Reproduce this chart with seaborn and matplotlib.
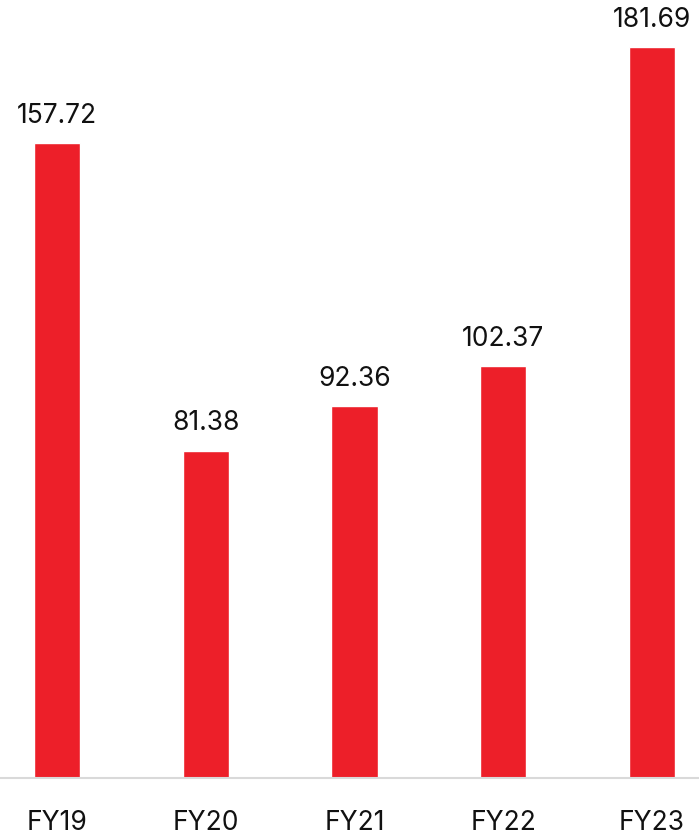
import matplotlib
matplotlib.use("Agg")
import matplotlib.pyplot as plt
import seaborn as sns
import pandas as pd

categories = ["FY19", "FY20", "FY21", "FY22", "FY23"]
values = [157.72, 81.38, 92.36, 102.37, 181.69]

sns.set_theme(style="white")
plt.rcParams['font.family'] = ['Inter', 'DejaVu Sans']

df = pd.DataFrame({"year": categories, "value": values})

fig = plt.figure(figsize=(6.99, 8.37), dpi=100)
ax = fig.add_axes([0, 0.0693, 1, 0.9307])
sns.barplot(data=df, x="year", y="value", color="#ED1F29", saturation=1, width=0.31, ax=ax)

ax.set_xlim(-0.383, 4.316)
ax.set_ylim(0, 193.6)
for s in ["top", "left", "right"]:
    ax.spines[s].set_visible(False)
ax.spines["bottom"].set_color("#d9d9d9")
ax.spines["bottom"].set_linewidth(1.5)
ax.set_yticks([])
ax.set_xlabel("")
ax.set_ylabel("")
ax.tick_params(axis="x", length=0, pad=22, labelsize=19, labelcolor="#111111")

for c in ax.containers:
    ax.bar_label(c, labels=[f"{v:.2f}" for v in values], padding=11, fontsize=19, color="#111111")

fig.savefig("out.png", dpi=100)
